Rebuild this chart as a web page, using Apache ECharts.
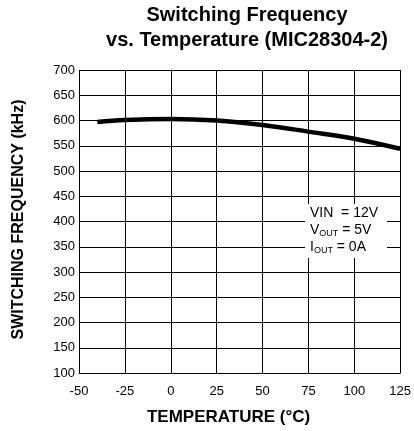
<!DOCTYPE html>
<html><head><meta charset="utf-8">
<script src="https://cdn.jsdelivr.net/npm/echarts@6/dist/echarts.min.js"></script>
<style>html,body{margin:0;padding:0;background:#fff}#c{width:414px;height:431px}</style>
</head><body><div id="c"></div>
<script>
const temperatures = [-40, -25, 0, 25, 50, 75, 100, 125];
const frequencies = [597, 601, 603, 600, 591, 578, 564, 544];
const xTicks = [-50, -25, 0, 25, 50, 75, 100, 125];
const yTicks = [100, 150, 200, 250, 300, 350, 400, 450, 500, 550, 600, 650, 700];

const F = 'Liberation Sans, Arial, sans-serif';
const chart = echarts.init(document.getElementById('c'));
chart.setOption({
  animation: false,
  textStyle: {fontFamily: F},
  title: {
    text: 'Switching Frequency\nvs. Temperature (MIC28304-2)',
    left: 242, top: -2, textAlign: 'center',
    textStyle: {fontFamily: F, fontSize: 20, fontWeight: 'bold', color: '#000', lineHeight: 25}
  },
  grid: {left: 79, right: 11, top: 70, bottom: 57},
  xAxis: {
    type: 'value', min: xTicks[0], max: xTicks[xTicks.length - 1], interval: 25,
    axisLine: {lineStyle: {color: '#000', width: 1}},
    axisTick: {show: false},
    splitLine: {lineStyle: {color: '#000', width: 1}},
    axisLabel: {color: '#000', fontSize: 13, fontFamily: F, margin: 12},
    name: 'TEMPERATURE (°C)', nameLocation: 'middle', nameGap: 36,
    nameTextStyle: {color: '#000', fontSize: 17, fontWeight: 'bold', fontFamily: F, padding: [0, 22, 0, 0]}
  },
  yAxis: {
    type: 'value', min: yTicks[0], max: yTicks[yTicks.length - 1], interval: 50,
    axisLine: {show: true, lineStyle: {color: '#000', width: 1}},
    axisTick: {show: false},
    splitLine: {lineStyle: {color: '#000', width: 1}},
    axisLabel: {color: '#000', fontSize: 13, fontFamily: F, margin: 4},
    name: 'SWITCHING FREQUENCY (kHz)', nameLocation: 'middle', nameGap: 52, nameRotate: 90,
    nameTextStyle: {color: '#000', fontSize: 16, fontWeight: 'bold', fontFamily: F, padding: [0, 0, 0, 4]}
  },
  series: [{
    type: 'line', smooth: 0.4, symbol: 'none',
    data: temperatures.map((t, i) => [t, frequencies[i]]),
    lineStyle: {color: '#000', width: 4.5}
  }],
  graphic: [{
    type: 'group', left: 305, top: 204, z: 100,
    children: [
      {type: 'rect', z: 100, shape: {x: 0, y: 0, width: 82, height: 54}, style: {fill: '#fff'}},
      {type: 'text', z: 101, x: 5, y: 1, style: {
        text: '{n|VIN  = 12V}\n{n|V}{s|OUT}{n| = 5V}\n{n|I}{s|OUT}{n| = 0A}',
        font: '14px ' + F, fill: '#000', lineHeight: 17,
        rich: {
          n: {fontSize: 14, fontFamily: F, fill: '#000', lineHeight: 17},
          s: {fontSize: 9, fontFamily: F, fill: '#000', padding: [7, 0, 0, 0], lineHeight: 17}
        }
      }}
    ]
  }]
});
</script></body></html>
